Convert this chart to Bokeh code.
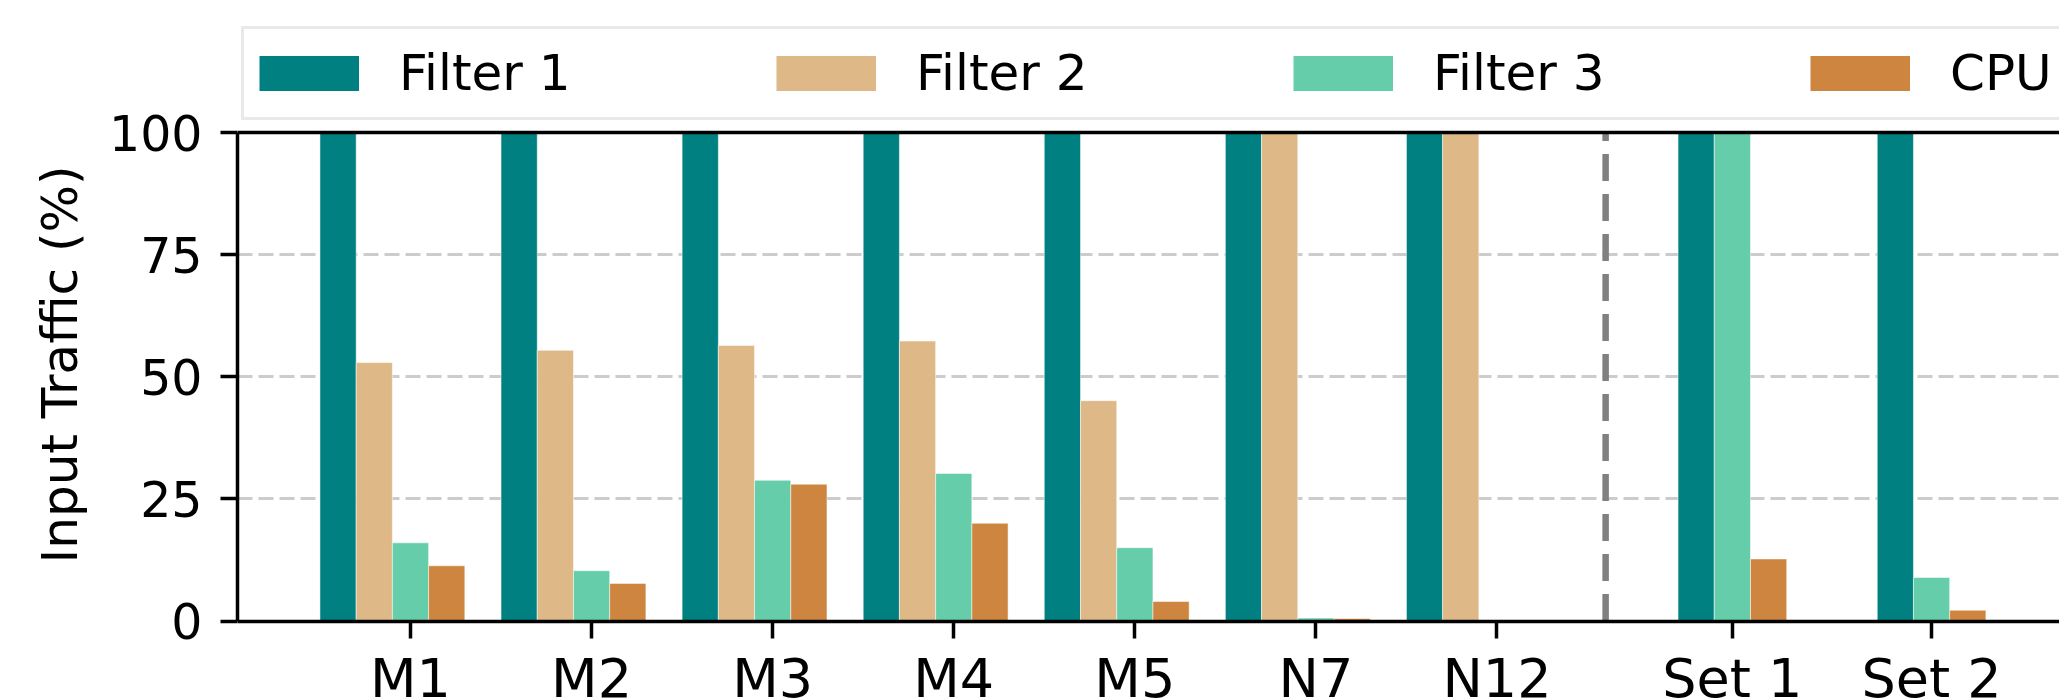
from bokeh.plotting import figure
from bokeh.models import ColumnDataSource, FixedTicker, Span, Legend, LegendItem, Range1d, Title
from bokeh.embed import file_html
from bokeh.resources import INLINE

# ---------------- data ----------------
categories = ["M1", "M2", "M3", "M4", "M5", "N7", "N12", "Set 1", "Set 2"]
series_names = ["Filter 1", "Filter 2", "Filter 3", "CPU"]
filter1 = [100, 100, 100, 100, 100, 100, 100, 100, 100]
filter2 = [52.9, 55.4, 56.4, 57.3, 45.1, 100, 100, None, None]
filter3 = [16.0, 10.3, 28.8, 30.2, 15.0, 0.6, 0.15, 100, 8.9]
cpu = [11.3, 7.7, 28.0, 20.0, 4.0, 0.5, 0.15, 12.7, 2.2]
y_ticks = [0, 25, 50, 75, 100]
y_label = "Input Traffic (%)"

# ---------------- layout / style ----------------
group_x = [0, 1, 2, 3, 4, 5, 6, 7.3, 8.4]
divider_x = 6.6
bar_w = 0.2
slots = [
    [-2, -2, -2, -2, -2, -2, -2, -1, -1],
    [-1] * 9,
    [0] * 9,
    [1] * 9,
]
colors = ["#008080", "#DEB887", "#66CDAA", "#CD853F"]
FONT = "DejaVu Sans"

W, H = 2059, 698
LEFT = 237
frame_w = W - LEFT
px_per_unit_x = 181.08
x_start = -173.0 / px_per_unit_x
x_end = x_start + frame_w / px_per_unit_x

# vertical: the frame fills the whole canvas height; y=100 sits 132px below the top,
# y=0 sits 77.5px above the bottom
px_per_unit_y = 4.885
y_start = y_ticks[0] - 77.5 / px_per_unit_y
y_end = y_ticks[-1] + 132.0 / px_per_unit_y

p = figure(width=W, height=H, output_backend="svg", toolbar_location=None,
           x_range=Range1d(x_start, x_end), y_range=Range1d(y_start, y_end),
           min_border_left=LEFT, min_border_top=0, min_border_bottom=0,
           min_border_right=0)
p.outline_line_color = None
p.background_fill_color = "white"
p.border_fill_color = "white"

# grid
p.xgrid.visible = False
p.ygrid.ticker = FixedTicker(ticks=y_ticks[1:-1])
p.ygrid.grid_line_color = "#cccccc"
p.ygrid.grid_line_width = 3
p.ygrid.grid_line_dash = "15 6"

# bars
all_values = [filter1, filter2, filter3, cpu]
for vals, slot, color in zip(all_values, slots, colors):
    xs, tops = [], []
    for gx, s, v in zip(group_x, slot, vals):
        if v is None:
            continue
        xs.append(gx + s * bar_w)
        tops.append(v)
    src = ColumnDataSource(data=dict(x=xs, top=tops))
    p.vbar(x="x", top="top", bottom=0, width=bar_w, source=src,
           fill_color=color, line_color="white", line_width=1, line_alpha=0.5)

# y axis (line limited to 0..100)
yax = p.yaxis[0]
yax.bounds = (y_ticks[0], y_ticks[-1])
yax.ticker = FixedTicker(ticks=y_ticks)
yax.major_label_text_font = FONT
yax.major_label_text_font_size = "49px"
yax.major_label_text_color = "black"
yax.major_label_standoff = 18
yax.minor_tick_line_color = None

# y axis title, centred on the 0..100 span
p.add_layout(Title(text=y_label, align="left", offset=135, standoff=33,
                   text_font=FONT, text_font_size="50px", text_font_style="normal",
                   text_color="black"), "left")

# x axis pinned at y=0
xax = p.xaxis[0]
xax.fixed_location = 0
xax.ticker = FixedTicker(ticks=group_x)
xax.major_label_overrides = {gx: c for gx, c in zip(group_x, categories)}
xax.major_label_text_font = FONT
xax.major_label_text_font_size = "54px"
xax.major_label_text_color = "black"
xax.major_label_standoff = 9
xax.minor_tick_line_color = None

for ax in (xax, yax):
    ax.axis_line_width = 3.5
    ax.axis_line_color = "black"
    ax.major_tick_line_width = 3.5
    ax.major_tick_line_color = "black"
    ax.major_tick_out = 17
    ax.major_tick_in = 0

# top spine at y=100
p.add_layout(Span(location=y_ticks[-1], dimension="width", line_color="black", line_width=3.5))

# divider between the two groups of workloads
p.segment(x0=[divider_x], y0=[y_ticks[0]], x1=[divider_x], y1=[y_ticks[-1]],
          line_color="#808080", line_width=6.5, line_dash="27 13")

# legend (swatches drawn as thick butt-capped lines so they sit centred on the labels)
nan = float("nan")
swatches = [p.line(x=[nan], y=[nan], line_width=35, line_color=c, line_cap="butt") for c in colors]
legend = Legend(items=[LegendItem(label=n, renderers=[r]) for n, r in zip(series_names, swatches)],
                orientation="horizontal", location=(4, 578),
                glyph_width=100, glyph_height=58, label_standoff=40, label_width=377,
                spacing=0, padding=15, margin=0,
                label_text_font=FONT, label_text_font_size="50px", label_text_color="black",
                border_line_color="#d4d4d4", border_line_width=3,
                background_fill_color="white", background_fill_alpha=1.0)
p.add_layout(legend, "center")

open("out.html", "w").write(file_html(p, INLINE))
